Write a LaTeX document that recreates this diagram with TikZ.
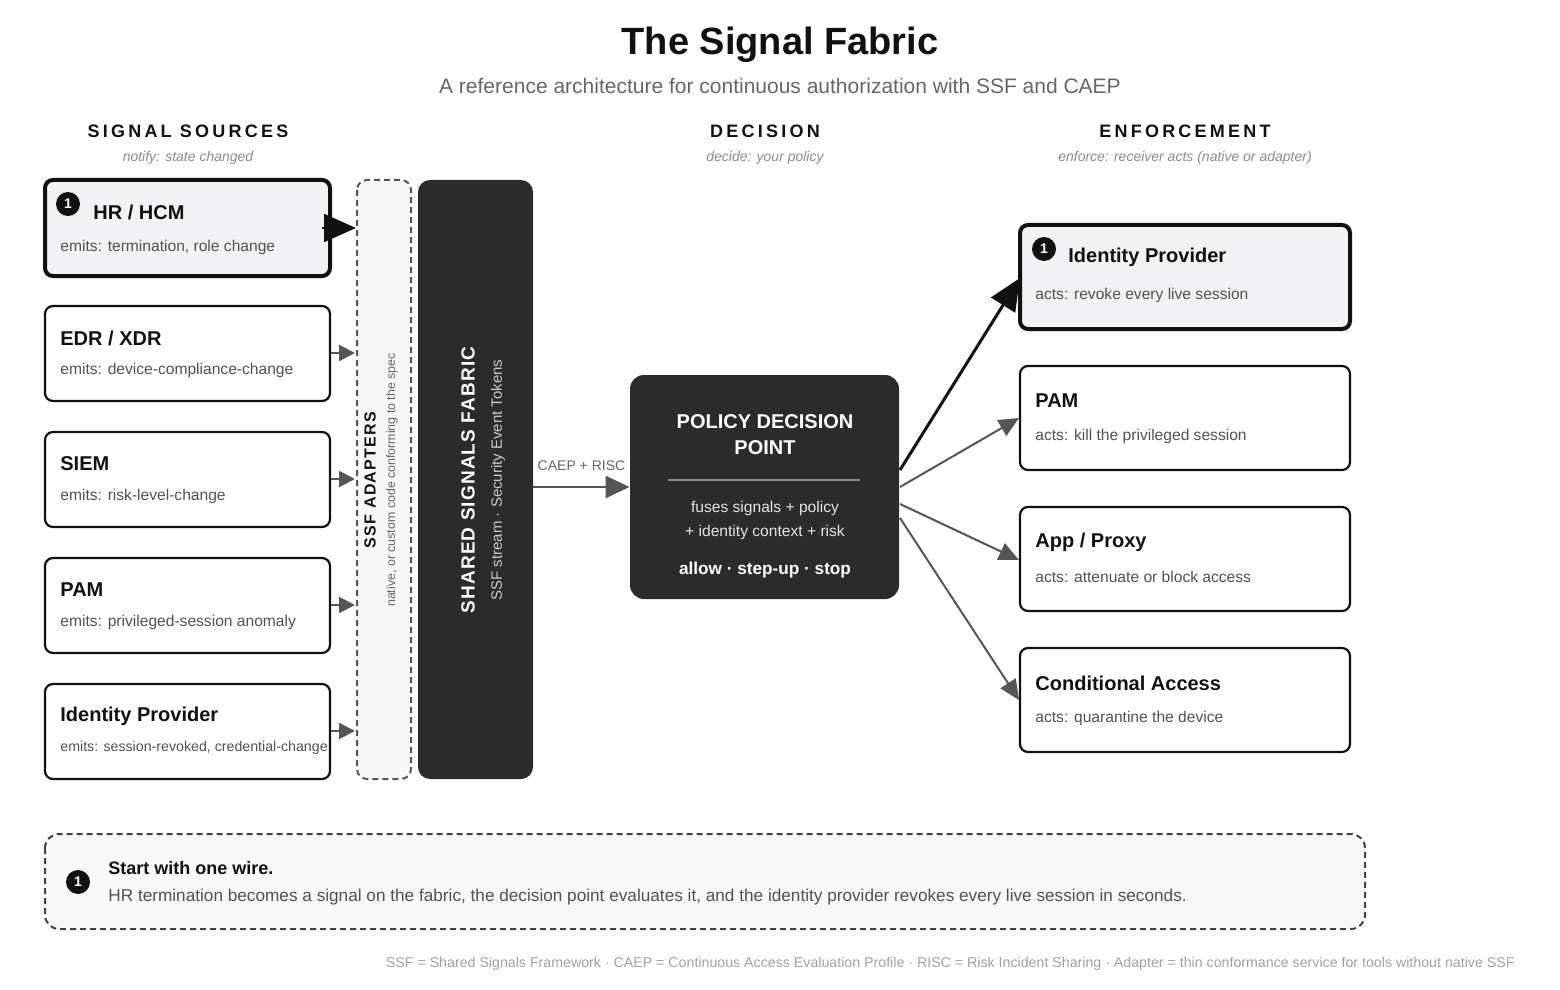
\documentclass[tikz,border=0pt]{standalone}
\usepackage{fontspec}
\setmainfont{Liberation Sans}
\usetikzlibrary{arrows.meta}
\definecolor{ink}{HTML}{111111}
\definecolor{dark}{HTML}{2B2B2B}
\definecolor{grayt}{HTML}{666666}
\definecolor{lgray}{HTML}{8A8A8A}
\definecolor{soft}{HTML}{F2F1F3}
\definecolor{arr}{HTML}{555555}
\begin{document}
\begin{tikzpicture}[x=0.5pt,y=-0.5pt,
 box/.style={draw=ink,line width=1.1pt,rounded corners=4pt,fill=white},
 hot/.style={draw=ink,line width=2pt,rounded corners=4pt,fill=soft},
 ttl/.style={anchor=west,inner sep=0pt,font=\fontsize{10}{12}\selectfont\bfseries,text=ink},
 sub/.style={anchor=west,inner sep=0pt,font=\fontsize{7.8}{9}\selectfont,text=grayt!80!black},
 hdr/.style={font=\fontsize{9}{11}\selectfont\bfseries\addfontfeatures{LetterSpace=18},text=ink},
 ital/.style={font=\fontsize{7}{8}\selectfont\itshape,text=lgray},
 badge/.style={circle,fill=ink,text=white,inner sep=0pt,minimum size=12pt,font=\fontsize{7}{8}\selectfont\bfseries},
 garr/.style={draw=arr,line width=1pt,-{Triangle[length=8pt,width=8pt]}},
 barr/.style={draw=ink,line width=2pt,-{Triangle[length=12pt,width=12pt]}}]
\useasboundingbox (0,0) rectangle (1560,990);
\node[font=\fontsize{19}{22}\selectfont\bfseries,text=ink] (title) at (780,45) {The Signal Fabric};
\node[font=\fontsize{10.5}{12}\selectfont,text=grayt] (subt) at (780,86) {A reference architecture for continuous authorization with SSF and CAEP};
\node[hdr] (h1) at (188,131) {SIGNAL SOURCES};
\node[hdr] (h2) at (765,131) {DECISION};
\node[hdr] (h3) at (1185,131) {ENFORCEMENT};
\node[ital] (i1) at (188,158) {notify: state changed};
\node[ital] (i2) at (765,158) {decide: your policy};
\node[ital] (i3) at (1185,158) {enforce: receiver acts (native or adapter)};
% adapters and fabric
\draw[densely dashed,draw=arr,line width=1pt,rounded corners=5pt,fill=soft!60] (357,180) rectangle (411,779);
\node[rotate=90,font=\fontsize{8}{10}\selectfont\bfseries\addfontfeatures{LetterSpace=8},text=ink] (ad1) at (370,480) {SSF ADAPTERS};
\node[rotate=90,font=\fontsize{6.2}{8}\selectfont,text=grayt] (ad2) at (392,480) {native, or custom code conforming to the spec};
\node[draw=none,fill=dark,rounded corners=6pt,minimum width=57.5pt,minimum height=299.5pt] (fab) at (475.5,479.5) {};
\node[rotate=90,font=\fontsize{9.5}{11}\selectfont\bfseries\addfontfeatures{LetterSpace=6},text=white] (f1) at (468,480) {SHARED SIGNALS FABRIC};
\node[rotate=90,font=\fontsize{7.5}{9}\selectfont,text=white!80!black] (f2) at (498,480) {SSF stream · Security Event Tokens};
% sources
\foreach \n/\y/\t/\s/\fs in {s2/306/{EDR / XDR}/emits: device-compliance-change/7.8,
  s3/432/SIEM/emits: risk-level-change/7.8,
  s4/558/PAM/emits: privileged-session anomaly/7.8,
  s5/684/Identity Provider/{emits: session-revoked, credential-change}/7.1}{
  \draw[box] (45,\y) rectangle (330,\y+95);
  \node[ttl] (\n t) at (60,\y+32) {\t};
  \node[sub,font=\fontsize{\fs}{9}\selectfont] (\n s) at (60,\y+64) {\s};
  \coordinate (\n o) at (331,\y+47);
  \coordinate (\n i) at (355,\y+47);
  \draw[garr] (\n o) -- (\n i);
}
\draw[hot] (45,180) rectangle (330,276);
\node[badge] (b1) at (68,204) {1};
\node[ttl] (s1t) at (93,212) {HR / HCM};
\node[sub] (s1s) at (60,247) {emits: termination, role change};
\coordinate (s1o) at (322,228);\coordinate (s1i) at (356,228);
\draw[barr,line width=1pt,-{Triangle[length=16pt,width=14pt]}] (s1o) -- (s1i);
% PDP
\node[fill=dark,rounded corners=7pt,minimum width=134.5pt,minimum height=112pt] (pdp) at (764.5,487) {};
\node[font=\fontsize{10}{13}\selectfont\bfseries,text=white,align=center] (p1) at (765,435) {POLICY DECISION\\POINT};
\draw[draw=lgray,line width=0.6pt] (668,480) -- (860,480);
\node[font=\fontsize{7.8}{12}\selectfont,text=white!90!black,align=center] (p2) at (765,520) {fuses signals + policy\\+ identity context + risk};
\node[font=\fontsize{8.6}{10}\selectfont\bfseries,text=white] (p3) at (765,570) {allow · step-up · stop};
\draw[garr,line width=1.3pt,-{Triangle[length=12pt,width=11pt]}] (fab.east|-pdp) -- node[above=4pt,font=\fontsize{7}{8}\selectfont,text=grayt] (lab) {CAEP + RISC} (pdp.west);
% enforcement
\draw[hot] (1020,225) rectangle (1350,329);
\node[badge] (b2) at (1044,249) {1};
\node[ttl] (e1t) at (1068,257) {Identity Provider};
\node[sub] (e1s) at (1035,295) {acts: revoke every live session};
\foreach \n/\y/\t/\s in {e2/366/PAM/acts: kill the privileged session,
  e3/507/{App / Proxy}/acts: attenuate or block access,
  e4/648/Conditional Access/acts: quarantine the device}{
  \draw[box] (1020,\y) rectangle (1350,\y+104);
  \node[ttl] (\n t) at (1035,\y+35) {\t};
  \node[sub] (\n s) at (1035,\y+70) {\s};
}
\coordinate (q1) at (900,470);\coordinate (t1) at (1020,278);
\coordinate (q2) at (900,487);\coordinate (t2) at (1019,418);
\coordinate (q3) at (900,504);\coordinate (t3) at (1019,560);
\coordinate (q4) at (900,518);\coordinate (t4) at (1019,700);
\draw[barr,line width=1.5pt,-{Triangle[length=16pt,width=14pt]}] (q1) -- (t1);
\draw[garr,-{Triangle[length=10pt,width=9pt]}] (q2) -- (t2);
\draw[garr,-{Triangle[length=10pt,width=9pt]}] (q3) -- (t3);
\draw[garr,-{Triangle[length=10pt,width=9pt]}] (q4) -- (t4);
% note
\draw[densely dashed,draw=ink!80,line width=1pt,rounded corners=7pt,fill=soft!50] (45,834) rectangle (1365,929);
\node[badge] (b3) at (78,882) {1};
\node[anchor=west,inner sep=0pt,font=\fontsize{9}{11}\selectfont\bfseries,text=ink] (n1) at (108,868) {Start with one wire.};
\node[anchor=west,inner sep=0pt,font=\fontsize{8.6}{10}\selectfont,text=grayt!80!black] (n2) at (108,897) {HR termination becomes a signal on the fabric, the decision point evaluates it, and the identity provider revokes every live session in seconds.};
\node[anchor=east,inner sep=0pt,font=\fontsize{7.1}{8}\selectfont,text=lgray!80] (foot) at (1515,964) {SSF = Shared Signals Framework · CAEP = Continuous Access Evaluation Profile · RISC = Risk Incident Sharing · Adapter = thin conformance service for tools without native SSF};
\end{tikzpicture}
\end{document}
